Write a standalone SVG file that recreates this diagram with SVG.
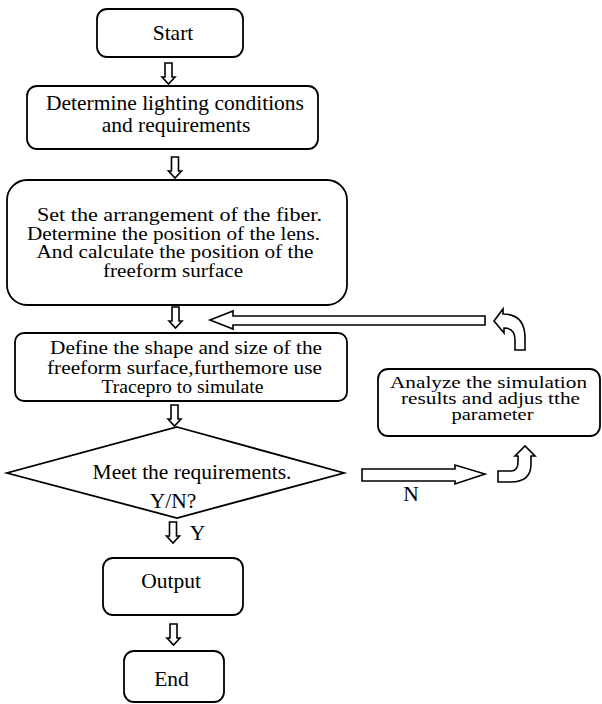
<svg xmlns="http://www.w3.org/2000/svg" width="602" height="704" viewBox="0 0 602 704">
<style>
.box{fill:#fff;stroke:#000;stroke-width:1.8}
.arr{fill:#fff;stroke:#000;stroke-width:1.6;stroke-linejoin:miter}
text{font-family:"Liberation Serif","Times New Roman",serif;font-size:21.5px;fill:#000;text-anchor:middle}
.t18{font-size:18px}
.t19{font-size:19px}
.t16{font-size:16px}
</style>
<defs>
<path id="down" d="M-3.5,0 L3.5,0 L3.5,14 L6.5,14 L0,21 L-6.5,14 L-3.5,14 Z"/>
</defs>
<rect width="602" height="704" fill="#fff"/>
<g id="connectors">
<use href="#down" class="arr" x="168.5" y="63"/>
<use href="#down" class="arr" x="175" y="157"/>
<use href="#down" class="arr" x="175.5" y="307"/>
<use href="#down" class="arr" x="174.5" y="405"/>
<use href="#down" class="arr" x="173" y="522"/>
<use href="#down" class="arr" x="173.5" y="624"/>
<path class="arr" d="M485,316 L233,316 L233,311 L210,320 L233,329 L233,325 L485,325 Z"/>
<path class="arr" d="M362,469 L455,469 L455,465 L485,474 L455,484 L455,481 L362,481 Z"/>
<path class="arr" d="M515,350 L515,340 Q515,328 504,328 L504,333 L494,321 L503,309 L503,314 Q525,314 525,338 L525,350 Z"/>
<path class="arr" d="M498,471 L511,471 Q518,471 518,462 L518,456 L515,456 L525,446 L535,456 L531,456 L531,464 Q531,482 511,482 L498,482 Z"/>
<text x="411" y="501">N</text>
<text x="197.5" y="540">Y</text>
</g>
<g id="start">
<rect class="box" x="97" y="9" width="146" height="48" rx="10"/>
<text x="173" y="40">Start</text>
</g>
<g id="determine">
<rect class="box" x="27" y="86" width="291" height="63" rx="10"/>
<text x="175" y="110">Determine lighting conditions</text>
<text x="176" y="132">and requirements</text>
</g>
<g id="arrangement">
<rect class="box" x="7" y="180" width="340" height="125" rx="20"/>
<text class="t18" x="179.5" y="221" textLength="285" lengthAdjust="spacingAndGlyphs">Set the arrangement of the fiber.</text>
<text class="t18" x="173.5" y="239.5" textLength="293" lengthAdjust="spacingAndGlyphs">Determine the position of the lens.</text>
<text class="t18" x="175" y="258" textLength="277" lengthAdjust="spacingAndGlyphs">And calculate the position of the</text>
<text class="t18" x="173" y="276.5" textLength="140" lengthAdjust="spacingAndGlyphs">freeform surface</text>
</g>
<g id="define">
<rect class="box" x="15" y="333" width="332" height="68" rx="9"/>
<text class="t19" x="186" y="354" textLength="272" lengthAdjust="spacingAndGlyphs">Define the shape and size of the</text>
<text class="t19" x="184.5" y="373.5" textLength="275" lengthAdjust="spacingAndGlyphs">freeform surface,furthemore use</text>
<text class="t19" x="182.5" y="393" textLength="162" lengthAdjust="spacingAndGlyphs">Tracepro to simulate</text>
</g>
<g id="decision">
<polygon class="box" points="177,427 344,473 177,518 7,473"/>
<text x="192" y="479">Meet the requirements.</text>
<text x="173" y="508">Y/N?</text>
</g>
<g id="analyze">
<rect class="box" x="378" y="369" width="222" height="67" rx="10"/>
<text class="t16" x="488.5" y="388" textLength="197" lengthAdjust="spacingAndGlyphs">Analyze the simulation</text>
<text class="t16" x="490.5" y="404" textLength="179" lengthAdjust="spacingAndGlyphs">results and adjus tthe</text>
<text class="t16" x="492.5" y="420" textLength="82" lengthAdjust="spacingAndGlyphs">parameter</text>
</g>
<g id="output">
<rect class="box" x="103" y="558" width="140" height="57" rx="10"/>
<text x="171" y="588">Output</text>
</g>
<g id="end">
<rect class="box" x="124" y="651" width="100" height="51" rx="10"/>
<text x="171.5" y="686">End</text>
</g>
</svg>
